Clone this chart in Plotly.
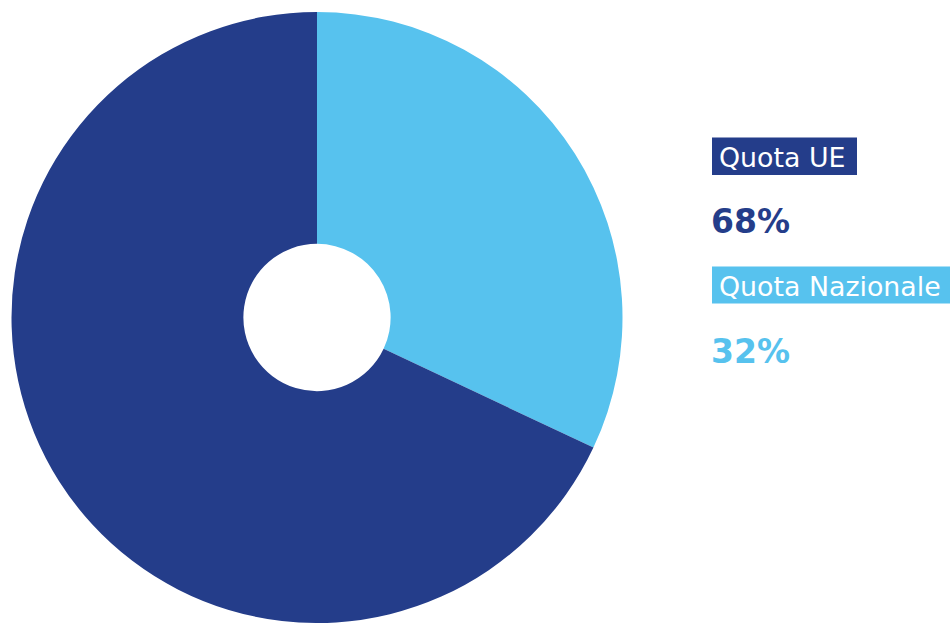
import plotly.graph_objects as go

labels = ["Quota Nazionale", "Quota UE"]
values = [32, 68]
colors = ["#57C2EE", "#243D8A"]

W, H = 950, 623

def px(x):
    return x / W

def py(y):
    return 1 - y / H

fig = go.Figure(go.Pie(
    labels=labels,
    values=values,
    marker=dict(colors=colors, line=dict(width=0)),
    hole=0.241,
    sort=False,
    direction="clockwise",
    rotation=0,
    textinfo="none",
    hoverinfo="label+percent",
    showlegend=False,
    domain=dict(x=[px(11.5), px(622.5)], y=[py(623), py(12)]),
))

# legend blocks (UE first, then Nazionale) as in the reference
order = [1, 0]
box_tops = [137.5, 266.5]
box_bottoms = [175, 303.5]
box_rights = [857, 950]
label_mid = [157, 286]
value_mid = [221, 351]

shapes = []
annotations = []
for k, i in enumerate(order):
    shapes.append(dict(type="rect", xref="paper", yref="paper",
                       x0=px(712), x1=px(box_rights[k]),
                       y0=py(box_bottoms[k]), y1=py(box_tops[k]),
                       fillcolor=colors[i], line=dict(width=0), layer="below"))
    annotations.append(dict(text=labels[i], xref="paper", yref="paper",
                            x=px(717), y=py(label_mid[k]), xanchor="left", yanchor="middle",
                            showarrow=False,
                            font=dict(family="DejaVu Sans", size=26.8, color="white")))
    annotations.append(dict(text=f"<b>{values[i]}%</b>", xref="paper", yref="paper",
                            x=px(709), y=py(value_mid[k]), xanchor="left", yanchor="middle",
                            showarrow=False,
                            font=dict(family="DejaVu Sans", size=33, color=colors[i])))

fig.update_layout(
    width=W, height=H,
    margin=dict(l=0, r=0, t=0, b=0),
    paper_bgcolor="white",
    plot_bgcolor="white",
    shapes=shapes,
    annotations=annotations,
)

fig.write_html("out.html")
